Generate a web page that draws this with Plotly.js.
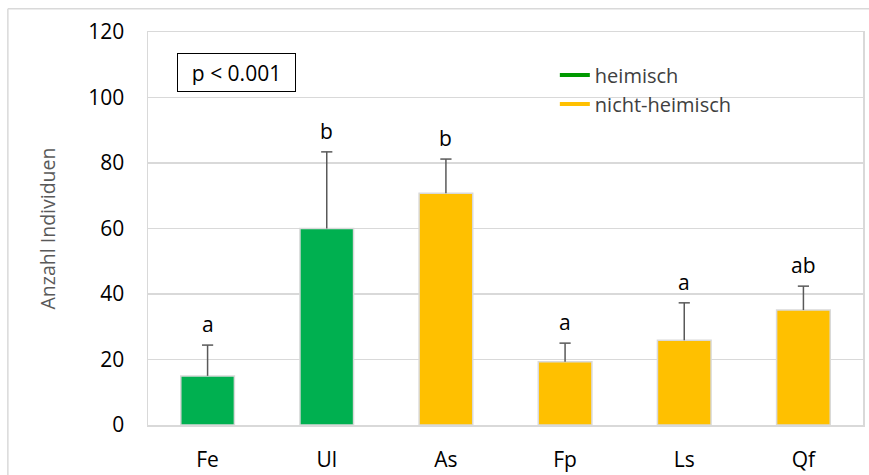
<!DOCTYPE html>
<html>
<head>
<meta charset="utf-8">
<script src="https://cdn.plot.ly/plotly-3.0.1.min.js"></script>
<style>html,body{margin:0;padding:0;background:#fff;}#chart{width:869px;height:475px;}</style>
</head>
<body>
<div id="chart"></div>
<script>
const categories = ["Fe", "Ul", "As", "Fp", "Ls", "Qf"];
const nativeCats = ["Fe", "Ul"];
const nativeValues = [15.0, 60.0];
const nativeErrors = [9.4, 23.4];
const nonNativeCats = ["As", "Fp", "Ls", "Qf"];
const nonNativeValues = [70.8, 19.3, 25.9, 35.1];
const nonNativeErrors = [10.4, 5.7, 11.4, 7.3];
const sigLetters = ["a", "b", "b", "a", "a", "ab"];
const yTicks = [0, 20, 40, 60, 80, 100, 120];
const pText = "p < 0.001";
const legendNames = ["heimisch", "nicht-heimisch"];

const GREEN = "#00B050", YELLOW = "#FFC000";
const FONT = "Open Sans, Noto Sans, sans-serif";

const allVals = nativeValues.concat(nonNativeValues);
const allErrs = nativeErrors.concat(nonNativeErrors);
const allCats = nativeCats.concat(nonNativeCats);

function barTrace(x, y, color) {
  return {
    type: "bar", x: x, y: y, showlegend: false, hoverinfo: "skip",
    marker: {color: color, line: {color: "#d9d9d9", width: 1.5}}
  };
}

// upper-only error whiskers, built from the data arrays
const whiskX = [], whiskY = [];
allCats.forEach((c, i) => {
  whiskX.push(c, c, null);
  whiskY.push(allVals[i], allVals[i] + allErrs[i], null);
});

const data = [
  barTrace(nativeCats, nativeValues, GREEN),
  barTrace(nonNativeCats, nonNativeValues, YELLOW),
  {type: "scatter", mode: "lines", x: whiskX, y: whiskY, showlegend: false, hoverinfo: "skip",
   line: {color: "#595959", width: 1.5}, cliponaxis: false},
  {type: "scatter", mode: "markers", x: allCats, y: allVals.map((v, i) => v + allErrs[i]),
   showlegend: false, hoverinfo: "skip", cliponaxis: false,
   marker: {symbol: "line-ew", size: 8, line: {color: "#595959", width: 1.5}}},
  {type: "scatter", mode: "lines", x: [null], y: [null], name: legendNames[0],
   line: {color: "#009900", width: 4}},
  {type: "scatter", mode: "lines", x: [null], y: [null], name: legendNames[1],
   line: {color: YELLOW, width: 4}}
];

const annotations = allCats.map((c, i) => ({
  x: c, y: allVals[i] + allErrs[i], xref: "x", yref: "y",
  text: sigLetters[categories.indexOf(c)],
  showarrow: false, yanchor: "bottom", yshift: 5,
  font: {family: FONT, size: 21, color: "#000"}
}));
annotations.push({
  x: 0.0406, y: 0.897, xref: "paper", yref: "paper", xanchor: "left", yanchor: "middle",
  text: pText, showarrow: false, bordercolor: "#000", borderwidth: 1, borderpad: 6,
  width: 105, height: 25, align: "center", valign: "middle",
  font: {family: FONT, size: 21, color: "#000"}, bgcolor: "#fff"
});

const layout = {
  width: 869, height: 475,
  margin: {l: 148, r: 6, t: 32, b: 50},
  paper_bgcolor: "#fff", plot_bgcolor: "#fff",
  barmode: "overlay", bargap: 0.55,
  font: {family: FONT, color: "#000"},
  xaxis: {
    type: "category", categoryorder: "array", categoryarray: categories,
    showgrid: false, showline: true, linecolor: "#d9d9d9", linewidth: 1.5, mirror: true,
    ticks: "outside", ticklen: 15, tickcolor: "rgba(0,0,0,0)",
    tickfont: {family: FONT, size: 21, color: "#000"}, zeroline: false
  },
  yaxis: {
    range: [0, 120], tickvals: yTicks, ticktext: yTicks.map(String),
    showgrid: true, gridcolor: "#d9d9d9", gridwidth: 1.5,
    showline: true, linecolor: "#d9d9d9", linewidth: 1.5, mirror: true, zeroline: false,
    ticks: "outside", ticklen: 18, tickcolor: "rgba(0,0,0,0)",
    tickfont: {family: FONT, size: 21, color: "#000"},
    title: {text: "Anzahl Individuen", standoff: 27, font: {family: FONT, size: 19.5, color: "#595959"}}
  },
  legend: {
    x: 0.569, y: 0.94, xanchor: "left", yanchor: "top",
    bgcolor: "rgba(0,0,0,0)", itemwidth: 30, tracegroupgap: 0,
    font: {family: FONT, size: 20, color: "#404040"}
  },
  annotations: annotations,
  shapes: [
    {type: "line", xref: "paper", yref: "paper", x0: -0.196, x1: 1.02, y0: 1.059, y1: 1.059,
     line: {color: "#d9d9d9", width: 1.5}},
    {type: "line", xref: "paper", yref: "paper", x0: -0.196, x1: -0.196, y0: -0.2, y1: 1.059,
     line: {color: "#d9d9d9", width: 1.5}}
  ]
};

Plotly.newPlot("chart", data, layout, {displayModeBar: false, staticPlot: true});
</script>
</body>
</html>
